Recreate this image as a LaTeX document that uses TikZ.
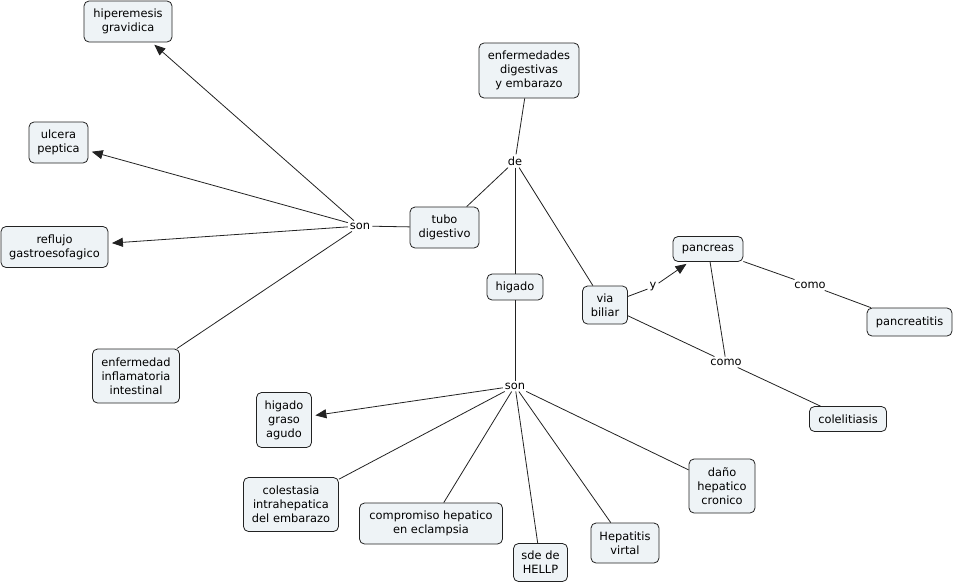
\documentclass[tikz,border=0pt]{standalone}
\usepackage{fontspec}
\setmainfont{DejaVu Sans}
\usetikzlibrary{arrows.meta}
\definecolor{boxfill}{HTML}{EEF3F6}
\definecolor{edge}{HTML}{222222}
\tikzset{
  concept/.style={draw=edge, line width=0.8pt, fill=boxfill, rounded corners=5pt,
    align=center, inner sep=0pt, font=\fontsize{11.4}{14}\selectfont},
  linkword/.style={inner sep=2pt, font=\fontsize{11.4}{14}\selectfont},
  conn/.style={draw=edge, line width=0.8pt},
  arr/.style={conn, -{Triangle[length=11pt,width=9pt]}, shorten >=3.5pt},
}
\begin{document}
\begin{tikzpicture}[x=1pt,y=-1pt]
\useasboundingbox (0,0) rectangle (957,584);
% concepts
\node[concept, minimum width=88pt, minimum height=41pt] (hip) at (128,21.5) {hiperemesis\\gravidica};
\node[concept, minimum width=59pt, minimum height=41pt] (ulc) at (58.5,142.5) {ulcera\\peptica};
\node[concept, minimum width=107pt, minimum height=41pt] (ref) at (54.5,247) {reflujo\\gastroesofagico};
\node[concept, minimum width=87pt, minimum height=54pt] (eii) at (136,376) {enfermedad\\inflamatoria\\intestinal};
\node[concept, minimum width=69pt, minimum height=41pt] (tubo) at (444.5,227.5) {tubo\\digestivo};
\node[concept, minimum width=100pt, minimum height=55pt] (top) at (529,70.5) {enfermedades\\digestivas\\y embarazo};
\node[concept, minimum width=56pt, minimum height=26pt] (hig) at (515,287) {higado};
\node[concept, minimum width=45pt, minimum height=38pt] (via) at (605,305) {via\\biliar};
\node[concept, minimum width=70pt, minimum height=25pt] (pan) at (708,249) {pancreas};
\node[concept, minimum width=85pt, minimum height=28pt] (pncr) at (909.5,322) {pancreatitis};
\node[concept, minimum width=77pt, minimum height=25pt] (cole) at (848,419) {colelitiasis};
\node[concept, minimum width=55pt, minimum height=55pt] (hga) at (284,420) {higado\\graso\\agudo};
\node[concept, minimum width=95pt, minimum height=54pt] (col) at (291,504.5) {colestasia\\intrahepatica\\del embarazo};
\node[concept, minimum width=143pt, minimum height=41pt] (comp) at (431,523.5) {compromiso hepatico\\en eclampsia};
\node[concept, minimum width=54pt, minimum height=38pt] (hellp) at (540.5,562.5) {sde de\\HELLP};
\node[concept, minimum width=68pt, minimum height=40pt] (hepv) at (625,543) {Hepatitis\\virtal};
\node[concept, minimum width=66pt, minimum height=54pt] (dano) at (722,486) {daño\\hepatico\\cronico};
% linking words
\node[linkword] (sonL) at (360,226) {son};
\node[linkword] (de) at (515,161) {de};
\node[linkword] (sonB) at (515,386) {son};
\node[linkword] (y) at (653,287) {y};
\node[linkword] (comoU) at (810,285) {como};
\node[linkword] (comoL) at (726,362) {como};
% connectors
\draw[conn] (top) -- (de);
\draw[conn] (de) -- (tubo);
\draw[conn] (de) -- (hig);
\draw[conn] (de) -- (via);
\draw[conn] (tubo) -- (sonL);
\draw[arr] (sonL) -- (hip);
\draw[arr] (sonL) -- (ulc);
\draw[arr] (sonL) -- (ref);
\draw[conn] (sonL) -- (eii);
\draw[conn] (hig) -- (sonB);
\draw[arr] (sonB) -- (hga);
\draw[conn] (sonB) -- (col);
\draw[conn] (sonB) -- (comp);
\draw[conn] (sonB) -- (hellp);
\draw[conn] (sonB) -- (hepv);
\draw[conn] (sonB) -- (dano);
\draw[conn] (via) -- (y);
\draw[arr] (y) -- (pan);
\draw[conn] (via) -- (comoL);
\draw[conn] (pan) -- (comoL);
\draw[conn] (comoL) -- (cole);
\draw[conn] (pan) -- (comoU);
\draw[conn] (comoU) -- (pncr);
\end{tikzpicture}
\end{document}
